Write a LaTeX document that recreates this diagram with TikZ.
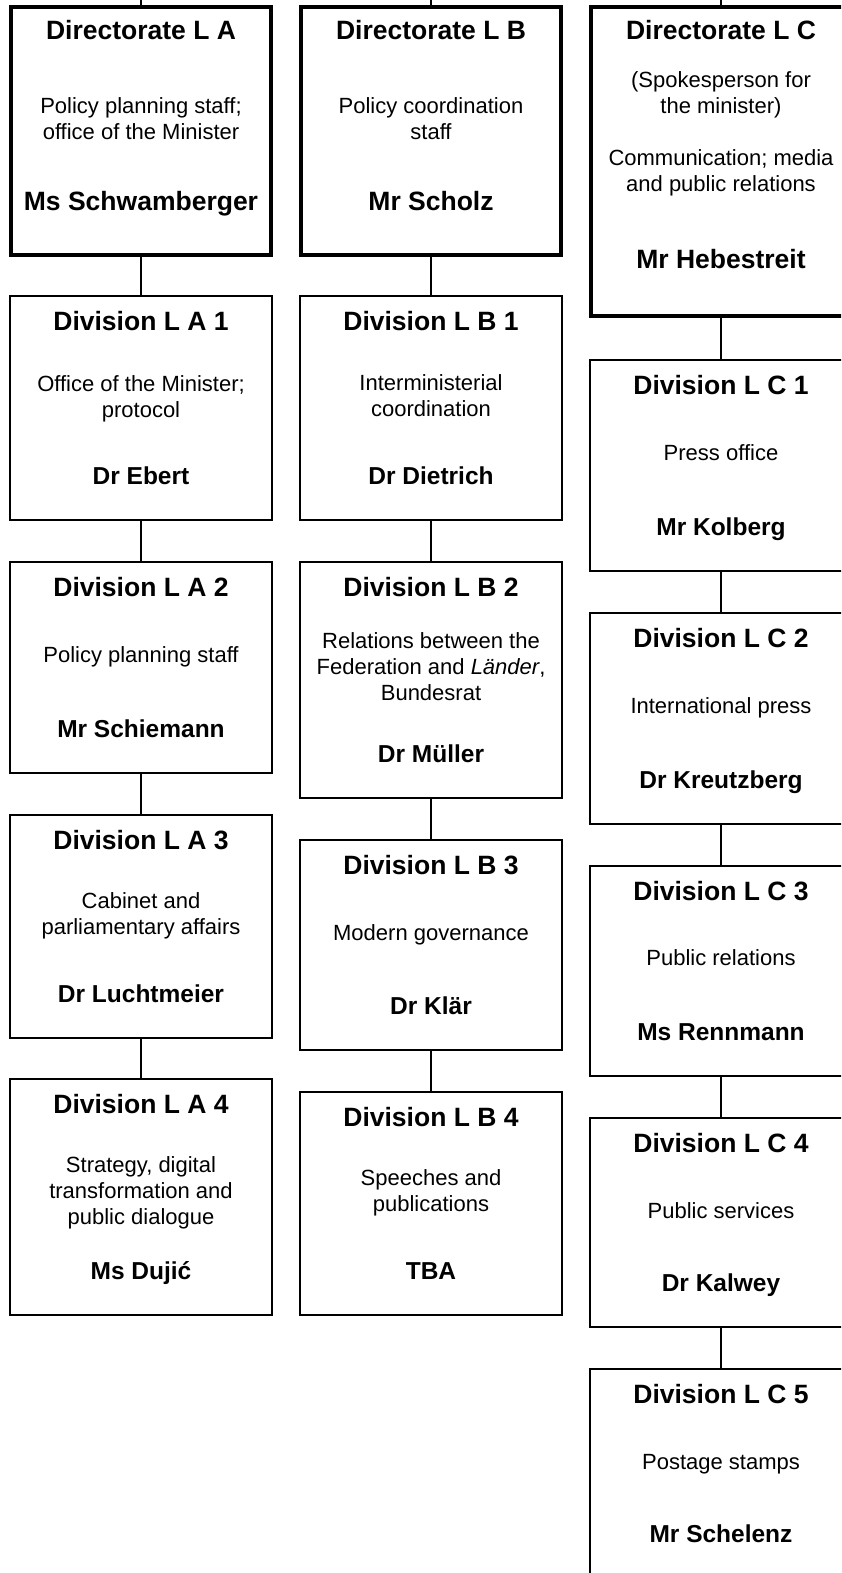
\documentclass[tikz,border=0pt]{standalone}
\usepackage{fontspec}
\setmainfont{Liberation Sans}
\tikzset{
  dirbox/.style={draw, line width=4pt, minimum width=260pt, inner sep=0pt, outer sep=0pt},
  divbox/.style={draw, line width=1.6pt, minimum width=262.4pt, inner sep=0pt, outer sep=0pt},
  conn/.style={line width=1.6pt},
  headtxt/.style={anchor=base, inner sep=0pt, font=\fontsize{26.5}{30}\selectfont\bfseries},
  dirname/.style={anchor=base, inner sep=0pt, font=\fontsize{26.5}{30}\selectfont\bfseries},
  divname/.style={anchor=base, inner sep=0pt, font=\fontsize{24.5}{28}\selectfont\bfseries},
  bodytxt/.style={anchor=base, inner sep=0pt, font=\fontsize{22}{26}\selectfont},
}
\newcommand\mkdiv[8]{%
  \node[divbox, minimum height={#4-#3-1.6}] (#1) at (#2, {(#3+#4)/2}) {};
  \node[headtxt] (#1-h) at (#2, {#3+35}) {#5};
  \node[bodytxt] (#1-b) at (#2, #8) {\begin{tabular}[t]{@{}c@{}}#6\end{tabular}};
  \node[divname] (#1-n) at (#2, {#4-36.5}) {#7};
}
\begin{document}
\begin{tikzpicture}[x=1pt, y=-1pt]
\useasboundingbox (0,0) rectangle (841,1573);
\clip (0,0) rectangle (841,1573);
% Directorates
\node[dirbox, minimum height=247.5pt] (dA) at (141,130.75) {};
\node[headtxt] (dA-h) at (141,39.3) {Directorate L A};
\node[bodytxt] (dA-b) at (141,113.3) {\begin{tabular}[t]{@{}c@{}}Policy planning staff;\\office of the Minister\end{tabular}};
\node[dirname] (dA-n) at (141,210.7) {Ms Schwamberger};

\node[dirbox, minimum height=247.5pt] (dB) at (431,130.75) {};
\node[headtxt] (dB-h) at (431,39.3) {Directorate L B};
\node[bodytxt] (dB-b) at (431,113.3) {\begin{tabular}[t]{@{}c@{}}Policy coordination\\staff\end{tabular}};
\node[dirname] (dB-n) at (431,210.7) {Mr Scholz};

\node[dirbox, minimum height=309.3pt] (dC) at (721,161.65) {};
\node[headtxt] (dC-h) at (721,39.3) {Directorate L C};
\node[bodytxt] (dC-b) at (721,87.5) {\begin{tabular}[t]{@{}c@{}}(Spokesperson for\\the minister)\\[26pt]Communication; media\\and public relations\end{tabular}};
\node[dirname] (dC-n) at (721,268.3) {Mr Hebestreit};

% Divisions column A
\mkdiv{la1}{141}{295}{521}{Division L A 1}{Office of the Minister;\\protocol}{Dr Ebert}{391}
\mkdiv{la2}{141}{561}{774}{Division L A 2}{Policy planning staff}{Mr Schiemann}{662.3}
\mkdiv{la3}{141}{814}{1039}{Division L A 3}{Cabinet and\\parliamentary affairs}{Dr Luchtmeier}{908}
\mkdiv{la4}{141}{1078}{1316}{Division L A 4}{Strategy, digital\\transformation and\\public dialogue}{Ms Duji\'c}{1172}
% Divisions column B
\mkdiv{lb1}{431}{295}{521}{Division L B 1}{Interministerial\\coordination}{Dr Dietrich}{390.4}
\mkdiv{lb2}{431}{561}{799}{Division L B 2}{Relations between the\\Federation and \textit{Länder},\\Bundesrat}{Dr Müller}{648.5}
\mkdiv{lb3}{431}{839}{1051}{Division L B 3}{Modern governance}{Dr Klär}{940.3}
\mkdiv{lb4}{431}{1091}{1316}{Division L B 4}{Speeches and\\publications}{TBA}{1185}
% Divisions column C
\mkdiv{lc1}{721}{359}{572}{Division L C 1}{Press office}{Mr Kolberg}{460.6}
\mkdiv{lc2}{721}{612}{825}{Division L C 2}{International press}{Dr Kreutzberg}{713.5}
\mkdiv{lc3}{721}{865}{1077}{Division L C 3}{Public relations}{Ms Rennmann}{965.4}
\mkdiv{lc4}{721}{1117}{1328}{Division L C 4}{Public services}{Dr Kalwey}{1218.3}
\mkdiv{lc5}{721}{1368}{1579}{Division L C 5}{Postage stamps}{Mr Schelenz}{1469.5}

% Connectors
\coordinate (tA) at (141,0);
\coordinate (tB) at (431,0);
\coordinate (tC) at (721,0);
\draw[conn] (tA) -- (dA.north);
\draw[conn] (tB) -- (dB.north);
\draw[conn] (tC) -- (dC.north);
\draw[conn] (dA.south) -- (la1.north);
\draw[conn] (la1.south) -- (la2.north);
\draw[conn] (la2.south) -- (la3.north);
\draw[conn] (la3.south) -- (la4.north);
\draw[conn] (dB.south) -- (lb1.north);
\draw[conn] (lb1.south) -- (lb2.north);
\draw[conn] (lb2.south) -- (lb3.north);
\draw[conn] (lb3.south) -- (lb4.north);
\draw[conn] (dC.south) -- (lc1.north);
\draw[conn] (lc1.south) -- (lc2.north);
\draw[conn] (lc2.south) -- (lc3.north);
\draw[conn] (lc3.south) -- (lc4.north);
\draw[conn] (lc4.south) -- (lc5.north);
\end{tikzpicture}
\end{document}
